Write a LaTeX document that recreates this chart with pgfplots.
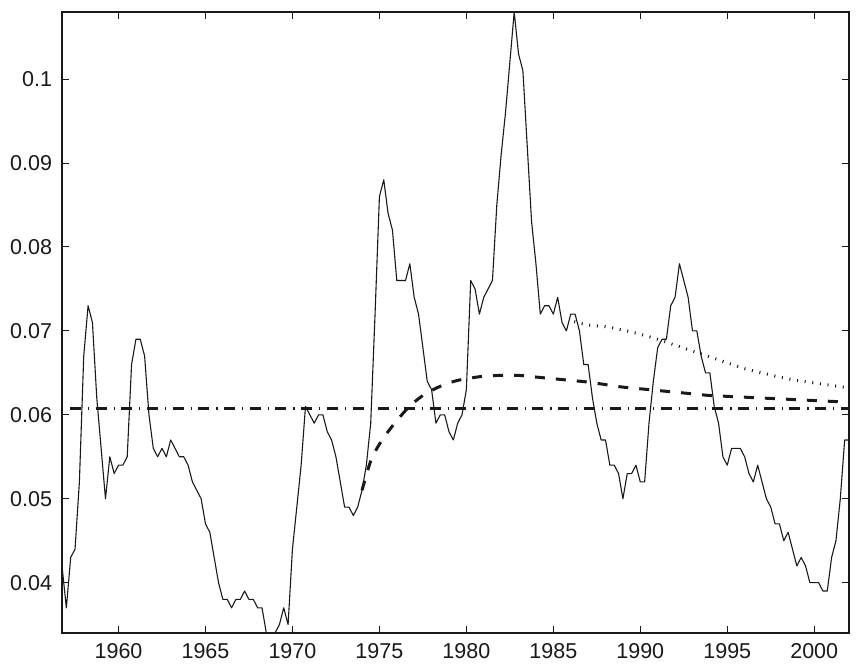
\documentclass[border=0pt]{standalone}
\usepackage{pgfplots}
\pgfplotsset{compat=1.18}
\usepackage{fontspec}
\setmainfont{Liberation Sans}
\pgfplotstableread{
t u
1956.75 0.042
1957.00 0.037
1957.25 0.043
1957.50 0.044
1957.75 0.052
1958.00 0.067
1958.25 0.073
1958.50 0.071
1958.75 0.062
1959.00 0.056
1959.25 0.050
1959.50 0.055
1959.75 0.053
1960.00 0.054
1960.25 0.054
1960.50 0.055
1960.75 0.066
1961.00 0.069
1961.25 0.069
1961.50 0.067
1961.75 0.060
1962.00 0.056
1962.25 0.055
1962.50 0.056
1962.75 0.055
1963.00 0.057
1963.25 0.056
1963.50 0.055
1963.75 0.055
1964.00 0.054
1964.25 0.052
1964.50 0.051
1964.75 0.050
1965.00 0.047
1965.25 0.046
1965.50 0.043
1965.75 0.040
1966.00 0.038
1966.25 0.038
1966.50 0.037
1966.75 0.038
1967.00 0.038
1967.25 0.039
1967.50 0.038
1967.75 0.038
1968.00 0.037
1968.25 0.037
1968.50 0.034
1968.75 0.033
1969.00 0.034
1969.25 0.035
1969.50 0.037
1969.75 0.035
1970.00 0.044
1970.25 0.049
1970.50 0.054
1970.75 0.061
1971.00 0.060
1971.25 0.059
1971.50 0.060
1971.75 0.060
1972.00 0.058
1972.25 0.057
1972.50 0.055
1972.75 0.052
1973.00 0.049
1973.25 0.049
1973.50 0.048
1973.75 0.049
1974.00 0.051
1974.25 0.054
1974.50 0.059
1974.75 0.072
1975.00 0.086
1975.25 0.088
1975.50 0.084
1975.75 0.082
1976.00 0.076
1976.25 0.076
1976.50 0.076
1976.75 0.078
1977.00 0.074
1977.25 0.072
1977.50 0.068
1977.75 0.064
1978.00 0.063
1978.25 0.059
1978.50 0.060
1978.75 0.060
1979.00 0.058
1979.25 0.057
1979.50 0.059
1979.75 0.060
1980.00 0.063
1980.25 0.076
1980.50 0.075
1980.75 0.072
1981.00 0.074
1981.25 0.075
1981.50 0.076
1981.75 0.085
1982.00 0.091
1982.25 0.096
1982.50 0.102
1982.75 0.108
1983.00 0.103
1983.25 0.101
1983.50 0.092
1983.75 0.083
1984.00 0.078
1984.25 0.072
1984.50 0.073
1984.75 0.073
1985.00 0.072
1985.25 0.074
1985.50 0.071
1985.75 0.070
1986.00 0.072
1986.25 0.072
1986.50 0.070
1986.75 0.066
1987.00 0.066
1987.25 0.062
1987.50 0.059
1987.75 0.057
1988.00 0.057
1988.25 0.054
1988.50 0.054
1988.75 0.053
1989.00 0.050
1989.25 0.053
1989.50 0.053
1989.75 0.054
1990.00 0.052
1990.25 0.052
1990.50 0.059
1990.75 0.064
1991.00 0.068
1991.25 0.069
1991.50 0.069
1991.75 0.073
1992.00 0.074
1992.25 0.078
1992.50 0.076
1992.75 0.074
1993.00 0.070
1993.25 0.070
1993.50 0.067
1993.75 0.065
1994.00 0.065
1994.25 0.061
1994.50 0.059
1994.75 0.055
1995.00 0.054
1995.25 0.056
1995.50 0.056
1995.75 0.056
1996.00 0.055
1996.25 0.053
1996.50 0.052
1996.75 0.054
1997.00 0.052
1997.25 0.050
1997.50 0.049
1997.75 0.047
1998.00 0.047
1998.25 0.045
1998.50 0.046
1998.75 0.044
1999.00 0.042
1999.25 0.043
1999.50 0.042
1999.75 0.040
2000.00 0.040
2000.25 0.040
2000.50 0.039
2000.75 0.039
2001.00 0.043
2001.25 0.045
2001.50 0.050
2001.75 0.057
2002.00 0.057
}\actual
\pgfplotstableread{
t v
1974.0 0.0510
1974.5 0.0545
1975.0 0.0565
1975.5 0.0580
1976.0 0.0593
1976.5 0.0605
1977.0 0.0615
1977.5 0.0623
1978.0 0.0629
1978.5 0.0634
1979.0 0.0638
1979.5 0.0641
1980.0 0.0643
1981.0 0.0646
1982.0 0.0647
1983.0 0.0647
1984.0 0.0645
1985.0 0.0643
1986.0 0.0641
1987.0 0.0639
1988.0 0.0636
1989.0 0.0633
1990.0 0.0631
1991.0 0.0629
1992.0 0.0627
1993.0 0.0625
1994.0 0.0623
1995.0 0.0622
1996.0 0.0621
1997.0 0.0620
1998.0 0.0619
1999.0 0.0618
2000.0 0.0617
2001.0 0.0616
2002.0 0.0615
}\fcastA
\pgfplotstableread{
t w
1986.2 0.0711
1987.0 0.0707
1988.0 0.0705
1989.0 0.0701
1990.0 0.0696
1991.0 0.0690
1992.0 0.0683
1993.0 0.0676
1994.0 0.0669
1995.0 0.0662
1996.0 0.0655
1997.0 0.0650
1998.0 0.0645
1999.0 0.0641
2000.0 0.0638
2001.0 0.0635
2002.0 0.0632
}\fcastB
\begin{document}
\begin{tikzpicture}
\begin{axis}[
  scale only axis, width=787bp, height=621bp,
  xmin=1956.75, xmax=2002, ymin=0.034, ymax=0.108,
  axis line style={line width=1.4bp, black!90},
  tick style={line width=1bp, black!90},
  tick align=inside, major tick length=7bp,
  xtick={1960,1965,1970,1975,1980,1985,1990,1995,2000},
  ytick={0.04,0.05,0.06,0.07,0.08,0.09,0.1},
  scaled y ticks=false, scaled x ticks=false,
  xticklabel style={/pgf/number format/1000 sep={}, yshift=-10bp},
  yticklabel style={/pgf/number format/fixed, /pgf/number format/precision=2, xshift=-10bp},
  /pgf/number format/assume math mode=true,
  tick label style={font=\fontsize{21.5bp}{24bp}\selectfont, inner sep=0pt, outer sep=0pt, text=black!90},
]
\addplot[black!90, line width=1.1bp, line join=round] table[x=t, y=u] {\actual};
\addplot[black!90, line width=3bp, dash pattern=on 11bp off 7bp on 1.2bp off 6.5bp] coordinates {(1957.2,0.0607) (2002,0.0607)};
\addplot[black!90, line width=3bp, smooth, dash pattern=on 10bp off 11bp] table[x=t, y=v] {\fcastA};
\addplot[black!90, line width=3bp, smooth, dash pattern=on 1bp off 6.7bp] table[x=t, y=w] {\fcastB};
\end{axis}
\pgfresetboundingbox
\path ([shift={(-62bp,-34bp)}]current axis.south west) rectangle ([shift={(7bp,12bp)}]current axis.north east);
\end{tikzpicture}
\end{document}
